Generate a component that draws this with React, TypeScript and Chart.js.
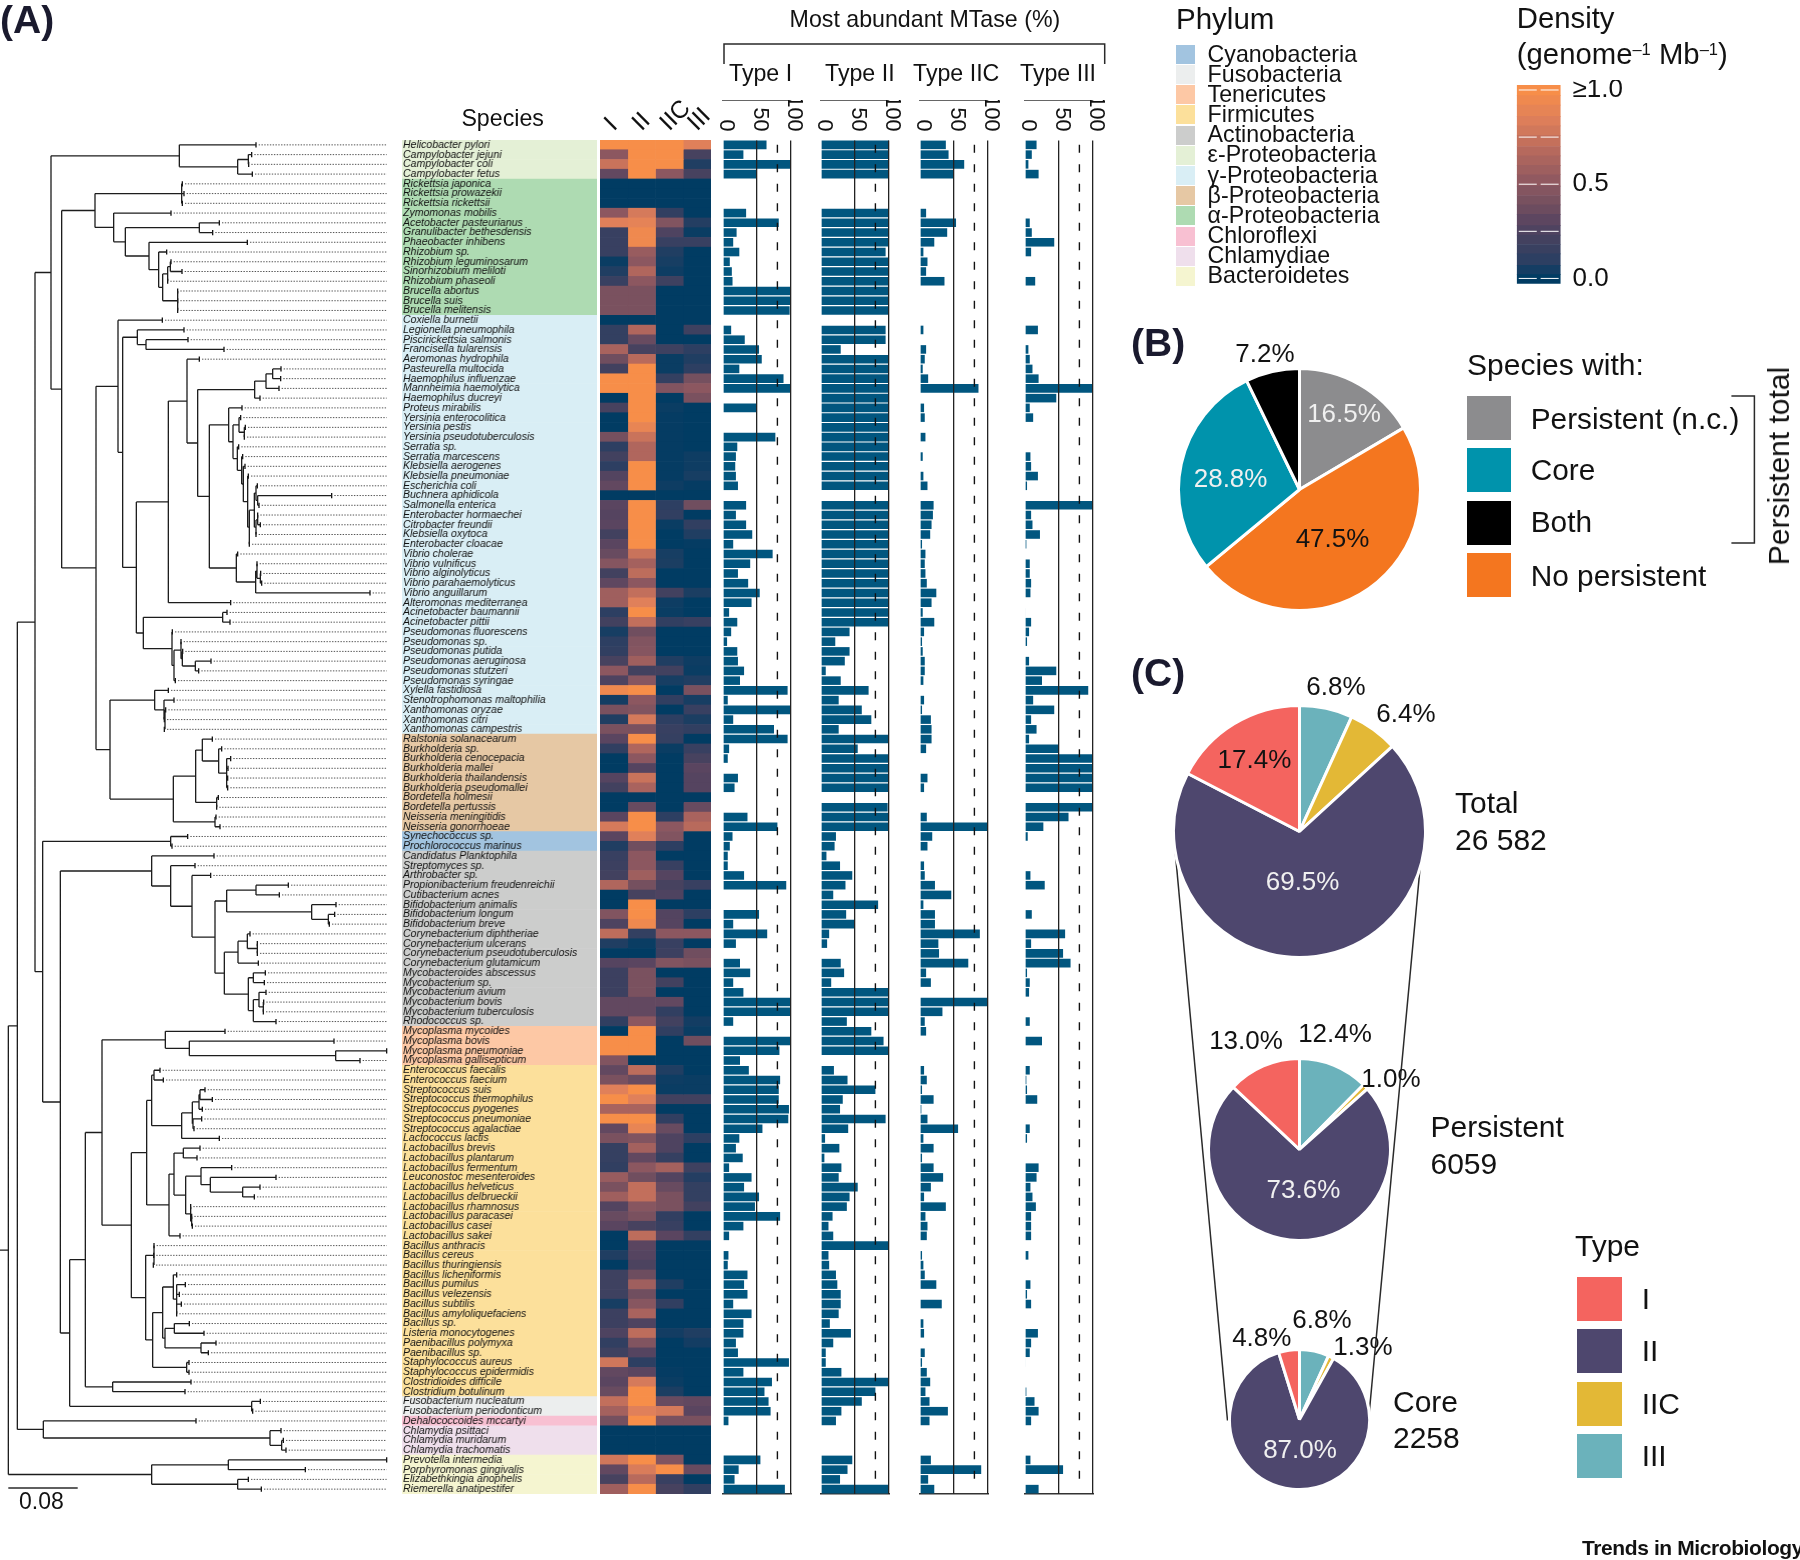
import React, { useEffect, useRef } from "react";
import { Chart, registerables } from "chart.js";

Chart.register(...registerables);

const FONT = "'Liberation Sans', Arial, sans-serif";

/* ---------- species, in plotting order, grouped by phylum ---------- */
const phyla: [string, string, string[]][] = [
  ["ε-Proteobacteria", "#e4f0d6", ["Helicobacter pylori", "Campylobacter jejuni", "Campylobacter coli", "Campylobacter fetus"]],
  ["α-Proteobacteria", "#aedbb2", ["Rickettsia japonica", "Rickettsia prowazekii", "Rickettsia rickettsii", "Zymomonas mobilis", "Acetobacter pasteurianus", "Granulibacter bethesdensis", "Phaeobacter inhibens", "Rhizobium sp.", "Rhizobium leguminosarum", "Sinorhizobium meliloti", "Rhizobium phaseoli", "Brucella abortus", "Brucella suis", "Brucella melitensis"]],
  ["γ-Proteobacteria", "#d9eef5", ["Coxiella burnetii", "Legionella pneumophila", "Piscirickettsia salmonis", "Francisella tularensis", "Aeromonas hydrophila", "Pasteurella multocida", "Haemophilus influenzae", "Mannheimia haemolytica", "Haemophilus ducreyi", "Proteus mirabilis", "Yersinia enterocolitica", "Yersinia pestis", "Yersinia pseudotuberculosis", "Serratia sp.", "Serratia marcescens", "Klebsiella aerogenes", "Klebsiella pneumoniae", "Escherichia coli", "Buchnera aphidicola", "Salmonella enterica", "Enterobacter hormaechei", "Citrobacter freundii", "Klebsiella oxytoca", "Enterobacter cloacae", "Vibrio cholerae", "Vibrio vulnificus", "Vibrio alginolyticus", "Vibrio parahaemolyticus", "Vibrio anguillarum", "Alteromonas mediterranea", "Acinetobacter baumannii", "Acinetobacter pittii", "Pseudomonas fluorescens", "Pseudomonas sp.", "Pseudomonas putida", "Pseudomonas aeruginosa", "Pseudomonas stutzeri", "Pseudomonas syringae", "Xylella fastidiosa", "Stenotrophomonas maltophilia", "Xanthomonas oryzae", "Xanthomonas citri", "Xanthomonas campestris"]],
  ["β-Proteobacteria", "#e6c8a4", ["Ralstonia solanacearum", "Burkholderia sp.", "Burkholderia cenocepacia", "Burkholderia mallei", "Burkholderia thailandensis", "Burkholderia pseudomallei", "Bordetella holmesii", "Bordetella pertussis", "Neisseria meningitidis", "Neisseria gonorrhoeae"]],
  ["Cyanobacteria", "#a2c4e0", ["Synechococcus sp.", "Prochlorococcus marinus"]],
  ["Actinobacteria", "#cccdcc", ["Candidatus Planktophila", "Streptomyces sp.", "Arthrobacter sp.", "Propionibacterium freudenreichii", "Cutibacterium acnes", "Bifidobacterium animalis", "Bifidobacterium longum", "Bifidobacterium breve", "Corynebacterium diphtheriae", "Corynebacterium ulcerans", "Corynebacterium pseudotuberculosis", "Corynebacterium glutamicum", "Mycobacteroides abscessus", "Mycobacterium sp.", "Mycobacterium avium", "Mycobacterium bovis", "Mycobacterium tuberculosis", "Rhodococcus sp."]],
  ["Tenericutes", "#fdc8a5", ["Mycoplasma mycoides", "Mycoplasma bovis", "Mycoplasma pneumoniae", "Mycoplasma gallisepticum"]],
  ["Firmicutes", "#fce09b", ["Enterococcus faecalis", "Enterococcus faecium", "Streptococcus suis", "Streptococcus thermophilus", "Streptococcus pyogenes", "Streptococcus pneumoniae", "Streptococcus agalactiae", "Lactococcus lactis", "Lactobacillus brevis", "Lactobacillus plantarum", "Lactobacillus fermentum", "Leuconostoc mesenteroides", "Lactobacillus helveticus", "Lactobacillus delbrueckii", "Lactobacillus rhamnosus", "Lactobacillus paracasei", "Lactobacillus casei", "Lactobacillus sakei", "Bacillus anthracis", "Bacillus cereus", "Bacillus thuringiensis", "Bacillus licheniformis", "Bacillus pumilus", "Bacillus velezensis", "Bacillus subtilis", "Bacillus amyloliquefaciens", "Bacillus sp.", "Listeria monocytogenes", "Paenibacillus polymyxa", "Paenibacillus sp.", "Staphylococcus aureus", "Staphylococcus epidermidis", "Clostridioides difficile", "Clostridium botulinum"]],
  ["Fusobacteria", "#eceeee", ["Fusobacterium nucleatum", "Fusobacterium periodonticum"]],
  ["Chloroflexi", "#f8c0d2", ["Dehalococcoides mccartyi"]],
  ["Chlamydiae", "#efdfec", ["Chlamydia psittaci", "Chlamydia muridarum", "Chlamydia trachomatis"]],
  ["Bacteroidetes", "#f5f5d0", ["Prevotella intermedia", "Porphyromonas gingivalis", "Elizabethkingia anophelis", "Riemerella anatipestifer"]],
];
const phylumLegend = ["Cyanobacteria", "Fusobacteria", "Tenericutes", "Firmicutes", "Actinobacteria", "ε-Proteobacteria", "γ-Proteobacteria", "β-Proteobacteria", "α-Proteobacteria", "Chloroflexi", "Chlamydiae", "Bacteroidetes"];
const species = phyla.flatMap((p) => p[2]);
const rowColors = phyla.flatMap((p) => p[2].map(() => p[1]));

/* ---------- most abundant MTase (%) ---------- */
const typeI = [64,30,100,50,0,0,0,34,82,20,15,24,10,13,14,100,100,98,0,12,32,53,57,24,89,100,0,50,0,0,77,21,19,18,19,22,0,34,19,34,43,15,73,40,22,37,54,42,9,21,12,6,21,22,31,25,95,7,100,15,75,95,9,7,0,22,17,0,0,36,80,14,10,7,7,31,93,0,0,53,15,65,19,0,25,40,15,30,100,100,15,0,100,83,25,38,84,82,82,97,96,58,24,19,29,9,42,31,53,47,84,30,9,0,8,7,36,31,36,15,42,30,30,19,22,97,30,72,61,67,70,8,0,0,0,55,23,17,91];
const typeII = [100,100,100,100,0,0,0,100,100,100,100,95,100,100,100,100,100,100,0,95,95,29,100,100,100,100,100,100,100,100,100,100,100,100,100,100,0,100,100,100,100,100,100,100,100,100,100,100,100,100,42,21,42,35,7,29,70,26,60,74,26,100,54,100,100,100,100,0,98,100,100,22,20,8,28,46,36,18,84,37,50,12,9,0,29,34,15,100,100,100,38,74,92,100,0,19,39,80,32,28,95,40,6,27,5,30,26,54,42,38,17,11,18,100,11,12,22,24,29,29,26,13,44,18,7,7,30,100,80,60,30,22,0,0,0,46,39,28,100];
const typeIIC = [38,42,65,50,0,0,0,9,53,40,21,5,11,9,36,0,0,0,0,5,0,9,7,4,12,86,0,6,7,0,8,0,4,0,5,11,0,20,19,17,15,3,8,7,8,10,24,17,4,21,6,3,4,7,7,5,0,6,3,16,17,17,9,0,0,11,6,0,0,10,100,18,11,0,6,7,22,46,5,22,22,88,27,28,71,9,16,0,100,33,7,9,0,0,0,6,10,3,20,2,11,56,5,20,3,20,34,16,6,38,8,11,10,0,3,5,7,24,0,32,0,5,6,0,7,3,10,15,8,14,41,14,0,0,0,16,90,12,21];
const typeIII = [17,10,5,20,0,0,0,0,7,10,43,9,0,0,15,0,0,0,0,19,0,5,7,11,20,100,46,7,12,0,0,0,8,9,19,3,0,100,9,11,22,2,0,7,7,9,8,0,1,9,6,3,0,6,46,25,93,12,43,9,17,6,50,100,100,100,100,0,100,64,27,4,0,0,0,8,29,0,0,10,0,59,9,56,67,3,7,6,0,0,7,0,25,0,0,7,2,3,18,0,0,7,3,0,0,20,17,8,11,16,9,9,9,0,5,0,0,8,3,9,0,0,19,9,7,1,0,0,2,14,20,9,0,0,0,8,56,0,20];

/* ---------- density per genome per Mb, clipped at 1.0 ---------- */
const densityI = [1,.5,.75,.33,0,0,0,.5,.85,.15,.15,.15,.02,.07,.15,.42,.42,.42,0,.13,.13,.62,.38,.2,1,1,0,.22,0,0,.4,.1,.2,.1,.27,.33,0,.3,.28,.3,.2,.3,.35,.47,.2,.32,.58,.58,.1,.2,.05,.1,.12,.22,.5,.25,.95,.04,.42,.07,.42,.3,.12,0,0,.28,.2,0,0,.3,.8,.3,.07,.15,.17,.2,.65,0,0,.45,.25,.7,.07,0,.28,.17,.17,.17,.33,.33,.12,0,1,1,.45,.33,.42,.85,1,.62,1,.33,.42,.14,.14,.12,.55,.42,.58,.27,.35,.3,0,0,.07,0,.18,.18,.18,.05,.17,.17,.25,.12,.18,.78,.33,.3,.35,.72,.6,.4,0,0,0,.78,.33,.22,.58];
const densityII = [1,1,1,1,0,0,0,.8,.88,.95,.95,.55,.5,.65,.5,.42,.42,.42,0,.65,.35,.22,.68,1,1,1,1,1,1,.9,.75,.65,.65,1,1,1,0,1,1,1,1,1,.75,.6,.7,.5,.72,.85,1,.72,.38,.45,.47,.58,.2,.48,1,.5,.45,.8,.42,1,.65,.5,.28,.75,.62,0,.35,1,1,.85,.38,.5,.5,.58,.4,.22,1,1,.95,.13,.02,0,.3,.42,.42,.42,.33,.33,.5,1,1,1,0,.7,.35,1,.85,.62,1,.9,.45,.6,.33,.5,.38,.72,.72,.48,.42,.22,.7,.3,.28,.24,.37,.58,.38,.48,.62,.25,.7,.45,.28,.1,.3,.8,1,1,.85,1,0,0,0,1,.82,.68,1];
const densityIIC = [1,1,1,.5,0,0,0,.12,.45,.25,.15,.07,.05,.03,.18,0,0,0,0,0,0,.18,.02,.02,.13,.45,0,.02,.01,.01,.01,.01,.01,.01,.01,.03,0,.1,.12,.02,0,0,.05,.06,0,0,.2,.03,.02,.12,0,0,0,.07,.2,.05,0,.12,0,.1,.15,.14,.02,0,0,0,0,0,0,.1,.5,.45,.1,0,.15,.28,.22,.25,0,.27,.28,.5,.15,.17,.45,0,.2,0,.33,.12,.2,.12,0,0,0,.07,.03,.02,.2,0,.12,.35,.25,.25,.14,.6,.27,.35,.42,.42,.12,.15,.3,0,0,0,0,.07,0,.12,0,0,.04,0,0,0,.01,.02,.06,.35,.8,.42,0,0,0,.45,1,.15,.22];
const densityIII = [.85,.22,.07,.22,0,0,0,0,.08,.02,.15,0,0,0,0,0,0,0,0,.18,0,.1,.07,.1,.4,.5,.42,0,0,0,0,0,.03,.03,.05,.01,0,.38,0,.12,.07,.01,0,0,0,0,.06,0,0,.15,0,0,0,.03,.02,.07,.42,.05,.15,.06,.12,0,.15,.22,.3,.28,.28,0,.35,.62,.68,0,0,0,0,0,.15,0,0,.1,0,.5,0,.38,.42,0,0,0,0,0,.04,.02,.38,0,0,0,.02,.02,.2,0,0,0,.1,0,0,.18,.08,.13,.13,.2,0,0,.13,0,0,0,0,0,0,0,0,0,.07,.04,0,0,0,0,0,.33,.3,.42,0,0,0,0,.35,0,.12];
const densityColumns = ["I", "II", "IIC", "III"];
const densityData = [densityI, densityII, densityIIC, densityIII];

const densityStops: [number, string][] = [[0, "#013c63"], [.1, "#2d3f62"], [.2, "#42415f"], [.3, "#5a4560"], [.4, "#75505f"], [.5, "#8c5760"], [.65, "#b0665d"], [.75, "#c9735b"], [.85, "#e0805a"], [1, "#f78e49"]];
const colorbarLevels = [-.03, .02, .07, .13, .18, .23, .28, .34, .39, .44, .49, .55, .6, .65, .7, .76, .81, .86, .92, .97, 1.03];
const colorbarTicks = [0, .25, .5, .75, 1];

/* ---------- phylogeny: [node depth, ...children]; a plain number is a tip depth ---------- */
type Node = number | Node[];
const epsilonClade: Node = [538, 768, [713, [745, 755, 746], 757]];
const alphaClade: Node = [285, [545, 547, 552, 547], [341, 513, [376, [598, 658, 638], [447, 742, [476, 500, [488, [503, [511, 513, 546], 503], [533, 533, 533, 533]]]]]]];
const entericTips: Node = [743, 745, [748, [763, [768, 772, [773, 995, 777]], [768, [773, 773, 781], 768]], 748]];
const entericClade: Node = [712, 716, [725, 728, [730, 735, entericTips]]];
const vibrioClade: Node = [709, 713, [767, [771, 771, [781, 782, 785]], 1110]];
const gammaCore: Node = [593, [764, [798, [818, 843, 842], 837], 780], [628, [686, 726, [699, [717, 722, [733, 736, 733]], entericClade]], vibrioClade]];
const gammaUpper: Node = [505, [561, 598, gammaCore], 692];
const pseudomonadClade: Node = [430, [668, 681, 690], [516, 517, [522, [543, 543, [547, 548, [586, 633, 596]]], 526]]];
const gammaClade: Node = [354, 487, [368, [412, 552, [438, 564, 672]], [409, gammaUpper, pseudomonadClade]]];
const xanthoBetaClade: Node = [330, [464, 505, [492, 522, [495, 497, 493, 493]]], [520, [587, [607, 637, [656, 665, [680, 692, 684, 683, 683]]], [650, 655, 650]], [645, 648, 660]]];
const proteobacteria: Node = [153, epsilonClade, [185, alphaClade, [288, gammaClade, xanthoBetaClade]]];
const actinoClade: Node = [455, 642, [512, 585, [576, 632, [645, [680, [768, 865, 838], [935, 1008, [985, 1004, 988]]], [673, [714, [742, 750, [772, 772, 772]], 775], [745, [760, 796, 793], [760, [777, 798, [790, 791, 790]], 828]]]]]]];
const mollicuteClade: Node = [496, 675, [568, 1002, [1007, 1160, 1080]]];
const lactoClade: Node = [440, [455, [462, 480, 490], [545, [577, [597, [600, 615, 637], 607], [579, 605, 582]], 658]], [507, [522, [550, 600, 591], [557, [603, 695, [631, 828, [728, 780, 763]]], [572, 572, [575, 575, 577]]]], 540]];
const bacilliClade: Node = [437, [462, 462, 461, 460], [458, [488, [520, 530, [530, 556, 538, 544, 530]], [495, [523, 568, 612], [603, 648, 625]]], [560, 567, 567]]];
const firmicuteClade: Node = [256, [306, mollicuteClade, [394, lactoClade, bacilliClade]], [338, 573, 555]];
const terrabacteria: Node = [128, [512, 563, 516], [181, actinoClade, [209, firmicuteClade, [755, 781, 758]]]];
const phylogeny: Node = [25, [52, [105, proteobacteria, terrabacteria], [130, 588, [810, 843, [845, 850, 858]]]], [455, [685, 1160, 916], [713, 745, 784]]];
const tipEnd = 1160;

/* ---------- pies ---------- */
const speciesPieLabels = ["Persistent (n.c.)", "No persistent", "Core", "Both"];
const speciesPieValues = [16.5, 47.5, 28.8, 7.2];
const speciesPieColors = ["#8c8c8e", "#f4761f", "#0093ac", "#000000"];
const typeLabels = ["III", "IIC", "II", "I"];
const typeColors = ["#6bb2bb", "#e3b836", "#4e476e", "#f4645f"];
const totalValues = [6.8, 6.4, 69.5, 17.4];
const persistentValues = [12.4, 1.0, 73.6, 13.0];
const coreValues = [6.8, 1.3, 87.0, 4.8];

/* ---------- layout ---------- */
const ROW_TOP = 140, ROW_BOTTOM = 1494;
const ROW_PITCH = (ROW_BOTTOM - ROW_TOP) / species.length;
const BAR_BLUE = "#01567f";
const INK = "#121212";

function colorFor(v: number) {
  const c = Math.max(0, Math.min(1, v));
  for (let i = 1; i < densityStops.length; i++) {
    if (c <= densityStops[i][0]) {
      const [a, ca] = densityStops[i - 1], [b, cb] = densityStops[i];
      const t = (c - a) / (b - a);
      const ch = (s: string, k: number) => parseInt(s.substr(k, 2), 16);
      const mix = (k: number) => Math.round(ch(ca, k) + (ch(cb, k) - ch(ca, k)) * t);
      return `rgb(${mix(1)},${mix(3)},${mix(5)})`;
    }
  }
  return densityStops[densityStops.length - 1][1];
}

const base = { responsive: false, animation: false as const, events: [] as string[] };
const noPlugins = { legend: { display: false }, tooltip: { enabled: false } };
const noAxisPadding = (s: any) => { s.paddingTop = 0; s.paddingBottom = 0; s.paddingLeft = 0; s.paddingRight = 0; };

function treeConfig() {
  const branches: { x: number; y: number }[] = [];
  const tips: { x: number; y: number }[] = [];
  const dotted: { x: number; y: number }[] = [];
  const gap = { x: NaN, y: NaN };
  let row = 0;
  const walk = (n: Node): { x: number; y: number } => {
    if (typeof n === "number") {
      const y = row++;
      tips.push({ x: n, y });
      if (n < tipEnd) dotted.push({ x: n + 8, y }, { x: tipEnd, y }, gap);
      return { x: n, y };
    }
    const kids = (n.slice(1) as Node[]).map(walk);
    const y = (kids[0].y + kids[kids.length - 1].y) / 2;
    branches.push({ x: n[0] as number, y: kids[0].y }, { x: n[0] as number, y: kids[kids.length - 1].y }, gap);
    kids.forEach((k) => branches.push({ x: n[0] as number, y: k.y }, { x: k.x, y: k.y }, gap));
    return { x: n[0] as number, y };
  };
  const root = walk(phylogeny);
  branches.push({ x: 0, y: root.y }, { x: root.x, y: root.y }, gap);
  const firstRow = ROW_TOP + ROW_PITCH / 2;
  return {
    type: "scatter",
    data: {
      datasets: [
        { data: dotted, showLine: true, spanGaps: false, pointRadius: 0, borderColor: "#555", borderWidth: 1, borderDash: [1.4, 1.4] },
        { data: branches, showLine: true, spanGaps: false, pointRadius: 0, borderColor: "#1c1c1c", borderWidth: 1.3 },
        { data: tips, showLine: false, pointStyle: "line", pointRotation: 90, pointRadius: 2.6, pointBorderWidth: 1.3, pointBorderColor: "#111" },
      ],
    },
    options: {
      ...base,
      plugins: noPlugins,
      layout: { autoPadding: false, padding: 0 },
      scales: {
        x: { type: "linear", display: false, min: 0, max: 1200 },
        y: { type: "linear", display: false, reverse: true, min: -firstRow / ROW_PITCH, max: (1560 - firstRow) / ROW_PITCH },
      },
    },
  };
}

function bandConfig() {
  return {
    type: "bar",
    data: { labels: species, datasets: [{ data: species.map(() => 1), backgroundColor: rowColors, categoryPercentage: 1, barPercentage: 1 }] },
    options: {
      ...base,
      indexAxis: "y",
      plugins: noPlugins,
      layout: { autoPadding: false, padding: 0 },
      scales: {
        x: { display: false, min: 0, max: 1 },
        y: {
          grid: { display: false, drawTicks: false },
          border: { display: false },
          afterFit: noAxisPadding,
          ticks: { mirror: true, z: 1, padding: 1, autoSkip: false, color: "#111", font: { family: FONT, size: 10.5, style: "italic" } },
        },
      },
    },
  };
}

function heatmapConfig() {
  return {
    type: "bar",
    data: {
      labels: species,
      datasets: densityData.map((col) => ({
        data: col.map(() => 1),
        backgroundColor: col.map(colorFor),
        categoryPercentage: 1,
        barPercentage: 1,
        xAxisID: "x",
      })),
    },
    options: {
      ...base,
      indexAxis: "y",
      plugins: noPlugins,
      layout: { autoPadding: false, padding: { left: 10, right: 10, top: 0, bottom: 6 } },
      scales: {
        x: { type: "linear", display: false, stacked: true, min: 0, max: 4 },
        x2: {
          type: "category",
          position: "top",
          labels: densityColumns,
          offset: true,
          grid: { display: false, drawTicks: false },
          border: { display: false },
          afterFit: (s: any) => { s.height = 50; noAxisPadding(s); },
          ticks: { minRotation: 45, maxRotation: 45, padding: 2.7, labelOffset: 16, autoSkip: false, color: "#111", font: { family: FONT, size: 24.5 } },
        },
        y: { display: false, stacked: true },
      },
    },
  };
}

const rotatedTicks = {
  id: "rotatedTicks",
  afterDraw(chart: any) {
    const s = chart.scales.x;
    const ctx = chart.ctx;
    ctx.save();
    ctx.fillStyle = "#111";
    ctx.font = `21.6px ${FONT}`;
    ctx.textAlign = "right";
    ctx.textBaseline = "middle";
    s.ticks.forEach((t: any, i: number) => {
      ctx.save();
      ctx.translate(s.getPixelForTick(i) + 2.5, chart.chartArea.top - 8.4);
      ctx.rotate(Math.PI / 2);
      ctx.fillText(String(t.value), 0, 0);
      ctx.restore();
    });
    ctx.restore();
  },
};

function barConfig(values: number[]) {
  return {
    type: "bar",
    data: {
      labels: species,
      datasets: [
        { type: "line", indexAxis: "y", data: species.map(() => 80), borderColor: "#111", borderWidth: 1.4, borderDash: [8, 11.5], pointRadius: 0, order: 0, xAxisID: "x" },
        { type: "bar", data: values, backgroundColor: BAR_BLUE, categoryPercentage: 1, barPercentage: 0.88, order: 1, xAxisID: "x" },
      ],
    },
    options: {
      ...base,
      indexAxis: "y",
      plugins: noPlugins,
      layout: { autoPadding: false, padding: { left: 14, right: 14, top: 40, bottom: 6 } },
      scales: {
        x: {
          type: "linear",
          position: "top",
          min: 0,
          max: 100,
          grid: { z: 1, drawTicks: false, lineWidth: 1.3, color: (c: any) => (c.tick && c.tick.value === 0 ? "rgba(0,0,0,0)" : "#222") },
          border: { color: "#333", width: 1.5 },
          ticks: { display: false, stepSize: 50 },
        },
        xBottom: {
          type: "linear",
          position: "bottom",
          min: 0,
          max: 100,
          grid: { display: false, drawTicks: false },
          border: { color: "#333", width: 1.5 },
          ticks: { display: false },
        },
        y: { display: false, offset: true },
      },
    },
    plugins: [rotatedTicks],
  };
}

function colorbarConfig() {
  const bins = colorbarLevels.slice(1).map((hi, i) => {
    const lo = colorbarLevels[i];
    return { type: "bar", data: [[lo, hi]], backgroundColor: colorFor((lo + hi) / 2), categoryPercentage: 1, barPercentage: 1, grouped: false, xAxisID: "x", order: 2 };
  });
  const marks = colorbarTicks.flatMap((v) => [{ x: 0, y: v }, { x: 1, y: v }]);
  return {
    type: "bar",
    data: {
      labels: ["density"],
      datasets: [
        ...bins,
        { type: "scatter", data: marks, xAxisID: "xMarks", pointStyle: "line", pointRadius: 9, pointBorderWidth: 1, pointBorderColor: "#fff", order: 1 },
      ],
    },
    options: {
      ...base,
      plugins: noPlugins,
      layout: { autoPadding: false, padding: { left: 11.8, right: 0, top: 5, bottom: 6.3 } },
      scales: {
        x: { display: false },
        xMarks: { type: "linear", display: false, min: 0, max: 1 },
        y: {
          position: "right",
          min: -0.028,
          max: 1.0265,
          grid: { display: false, drawTicks: false },
          border: { display: false },
          afterFit: (s: any) => { s.width = 74.4; noAxisPadding(s); },
          afterBuildTicks: (s: any) => { s.ticks = [{ value: 0 }, { value: 0.5 }, { value: 1 }]; },
          ticks: { padding: 12, color: "#111", font: { family: FONT, size: 26 }, callback: (v: number) => (v >= 1 ? "≥1.0" : v.toFixed(1)) },
        },
      },
    },
  };
}

function pieConfig(labels: string[], values: number[], colors: string[]) {
  return {
    type: "pie",
    data: { labels, datasets: [{ data: values, backgroundColor: colors, borderColor: "#fff", borderWidth: 3 }] },
    options: { ...base, plugins: noPlugins, layout: { autoPadding: false, padding: 0 } },
  };
}

const guideLines = [
  [[724, 64], [724, 44], [1104.7, 44], [1104.7, 64]],
  [[1731.4, 396], [1754.4, 396], [1754.4, 543], [1731.4, 543]],
  [[1173.3, 831], [1227.5, 1420.5]],
  [[1423.5, 831], [1368.5, 1420.5]],
  [[8.3, 1488], [77.7, 1488]],
];

function guideConfig() {
  return {
    type: "scatter",
    data: {
      datasets: guideLines.map((pts) => ({
        data: pts.map(([x, y]) => ({ x, y })),
        showLine: true,
        pointRadius: 0,
        borderColor: "#2a2a2a",
        borderWidth: 1.5,
      })),
    },
    options: {
      ...base,
      plugins: noPlugins,
      layout: { autoPadding: false, padding: 0 },
      scales: {
        x: { type: "linear", display: false, min: 0, max: 1800 },
        y: { type: "linear", display: false, min: 0, max: 1560, reverse: true },
      },
    },
  };
}

function Panel({ box, make }: { box: number[]; make: () => any }) {
  const ref = useRef<HTMLCanvasElement>(null);
  useEffect(() => {
    const chart = new Chart(ref.current as HTMLCanvasElement, make());
    return () => chart.destroy();
  }, []);
  return <canvas ref={ref} width={box[2]} height={box[3]} style={{ position: "absolute", left: box[0], top: box[1], width: box[2], height: box[3] }} />;
}

function T({ x, y, size, children, center, bold, color, rotate, style }: any) {
  return (
    <div
      style={{
        position: "absolute",
        left: x,
        top: y,
        transform: `translate(${center ? "-50%" : "0"},-50%)${rotate ? ` rotate(${rotate}deg)` : ""}`,
        fontFamily: FONT,
        fontSize: size,
        fontWeight: bold ? 700 : 400,
        color: color || INK,
        lineHeight: 1,
        whiteSpace: "nowrap",
        ...style,
      }}
    >
      {children}
    </div>
  );
}

function Swatch({ x, y, w, h, color }: any) {
  return <div style={{ position: "absolute", left: x, top: y, width: w, height: h, background: color }} />;
}

const pct = (v: number) => `${v.toFixed(1)}%`;
const piePanels: [number, number, number, string[], number[], string[]][] = [
  [1299, 489.2, 122.5, speciesPieLabels, speciesPieValues, speciesPieColors],
  [1299, 831, 127.5, typeLabels, totalValues, typeColors],
  [1299, 1149, 92.5, typeLabels, persistentValues, typeColors],
  [1299, 1419, 71.5, typeLabels, coreValues, typeColors],
];
const barPanels: [number, number[], string, number][] = [
  [723, typeI, "Type I", 729],
  [820.7, typeII, "Type II", 825],
  [920.3, typeIIC, "Type IIC", 913],
  [1024.5, typeIII, "Type III", 1020],
];
const speciesLegend: [string, string, number][] = [
  ["Persistent (n.c.)", "#8c8c8e", 419.4],
  ["Core", "#0093ac", 469.7],
  ["Both", "#000000", 522.4],
  ["No persistent", "#f4761f", 575.7],
];
const typeLegend: [string, string][] = [
  ["I", "#f4645f"],
  ["II", "#4e476e"],
  ["IIC", "#e3b836"],
  ["III", "#6bb2bb"],
];
const piePctLabels: [number, number, number, string][] = [
  [1265, 353, 7.2, INK],
  [1344, 413, 16.5, "#f0f0f0"],
  [1230.6, 477.6, 28.8, "#f0f0f0"],
  [1332.5, 538, 47.5, INK],
  [1336, 686, 6.8, INK],
  [1406, 713, 6.4, INK],
  [1254.4, 759, 17.4, INK],
  [1302.6, 881, 69.5, "#f0f0f0"],
  [1246, 1039.6, 13.0, INK],
  [1335, 1032.6, 12.4, INK],
  [1391, 1077.8, 1.0, INK],
  [1303.4, 1189.3, 73.6, "#f0f0f0"],
  [1261.8, 1337, 4.8, INK],
  [1322, 1319, 6.8, INK],
  [1363, 1346, 1.3, INK],
  [1300, 1448.7, 87.0, "#f0f0f0"],
];
const supStyle = { fontSize: 16.5, verticalAlign: 9 };

export default function App() {
  return (
    <div style={{ position: "absolute", left: 0, top: 0, width: 1800, height: 1560, background: "#fff", overflow: "hidden" }}>
      <Panel box={[0, 0, 1800, 1560]} make={guideConfig} />
      <Panel box={[0, 0, 400, 1560]} make={treeConfig} />
      <Panel box={[400, ROW_TOP, 196.6, ROW_BOTTOM - ROW_TOP]} make={bandConfig} />
      <Panel box={[590.3, 90, 131.1, 1410]} make={heatmapConfig} />
      {barPanels.map(([x0, vals], i) => (
        <Panel key={i} box={[x0 - 14, 100, 96, 1400]} make={() => barConfig(vals)} />
      ))}
      <Panel box={[1505, 80, 130, 210]} make={colorbarConfig} />
      {piePanels.map(([cx, cy, r, labels, vals, cols], i) => (
        <Panel key={i} box={[cx - r, cy - r, 2 * r, 2 * r]} make={() => pieConfig(labels, vals, cols)} />
      ))}

      <T x={0} y={19} size={39} bold color="#1a1a2e">(A)</T>
      <T x={1131} y={342} size={39} bold color="#1a1a2e">(B)</T>
      <T x={1131} y={672} size={39} bold color="#1a1a2e">(C)</T>

      <T x={789.6} y={20} size={23.2}>Most abundant MTase (%)</T>
      {barPanels.map(([, , name, x], i) => (
        <T key={i} x={x} y={74} size={23.2}>{name}</T>
      ))}
      <T x={461.4} y={119} size={23.2}>Species</T>
      <T x={19} y={1501} size={23}>0.08</T>

      <T x={1176} y={18.5} size={29.5}>Phylum</T>
      {phylumLegend.map((name, i) => {
        const color = phyla.find((p) => p[0] === name)![1];
        return (
          <React.Fragment key={name}>
            <Swatch x={1175.5} y={44.9 + i * 20.18} w={19.5} h={19} color={color} />
            <T x={1207.6} y={54.5 + i * 20.18} size={23.2}>{name}</T>
          </React.Fragment>
        );
      })}

      <T x={1516.8} y={18.4} size={29.3}>Density</T>
      <T x={1516.8} y={53.7} size={29.3}>
        (genome<span style={supStyle}>–1</span> Mb<span style={supStyle}>–1</span>)
      </T>

      <T x={1467} y={365.4} size={30}>Species with:</T>
      {speciesLegend.map(([name, color, textY], i) => (
        <React.Fragment key={name}>
          <Swatch x={1466.7} y={396 + i * 52.4} w={44.3} h={44} color={color} />
          <T x={1530.7} y={textY} size={29.8}>{name}</T>
        </React.Fragment>
      ))}
      <T x={1779} y={466.3} size={30} center rotate={-90}>Persistent total</T>

      {piePctLabels.map(([x, y, v, color], i) => (
        <T key={i} x={x} y={y} size={26} center color={color}>{pct(v)}</T>
      ))}

      <T x={1455} y={802.6} size={30}>Total</T>
      <T x={1455} y={839.5} size={30}>26 582</T>
      <T x={1430.5} y={1127} size={30}>Persistent</T>
      <T x={1430.5} y={1163.5} size={30}>6059</T>
      <T x={1393} y={1401.7} size={30}>Core</T>
      <T x={1393} y={1438} size={30}>2258</T>

      <T x={1575} y={1245.6} size={30}>Type</T>
      {typeLegend.map(([name, color], i) => (
        <React.Fragment key={name}>
          <Swatch x={1577} y={1276.7 + i * 52.5} w={44.7} h={44} color={color} />
          <T x={1641.7} y={1298.7 + i * 52.5} size={30}>{name}</T>
        </React.Fragment>
      ))}

      <T x={1582} y={1546.7} size={21} bold style={{ letterSpacing: -0.4 }}>Trends in Microbiology</T>
    </div>
  );
}
